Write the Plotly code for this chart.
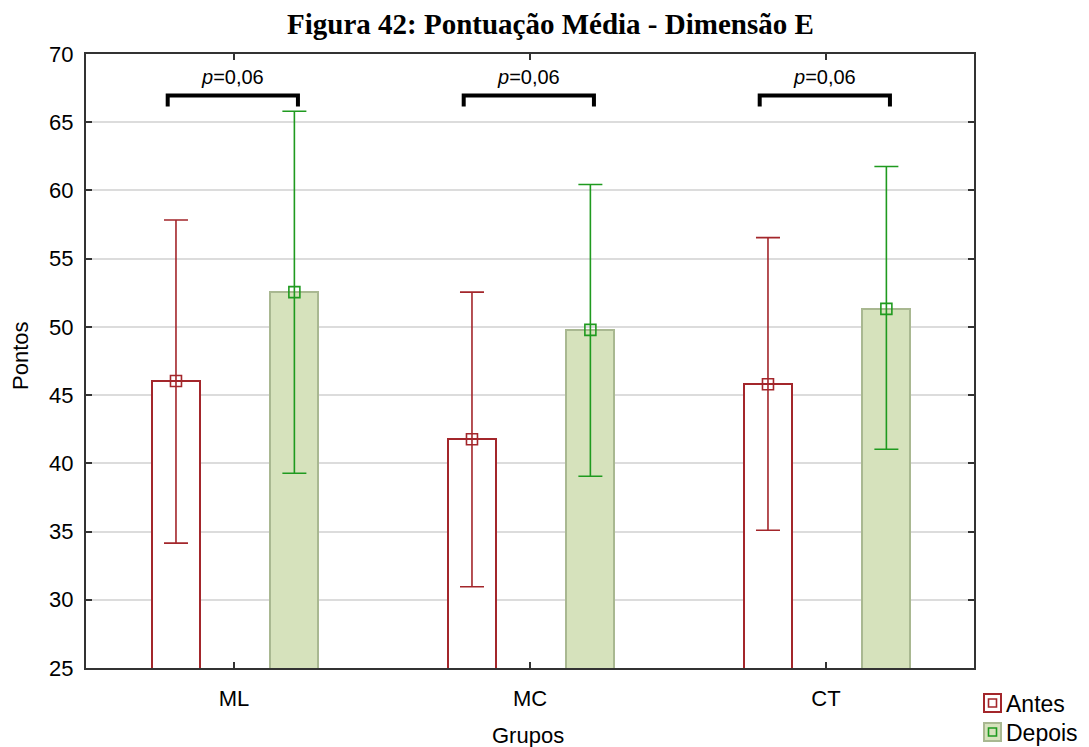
import plotly.graph_objects as go

# Groups and scores (mean with confidence interval limits)
grupos = ["ML", "MC", "CT"]
series = ["Antes", "Depois"]
antes_media = [46.03, 41.77, 45.80]
antes_sup = [57.83, 52.55, 56.54]
antes_inf = [34.15, 30.95, 35.10]
depois_media = [52.55, 49.78, 51.32]
depois_sup = [65.80, 60.44, 61.76]
depois_inf = [39.27, 39.05, 41.03]
p_valores = ["0,06", "0,06", "0,06"]
y_ticks = [25, 30, 35, 40, 45, 50, 55, 60, 65, 70]

RED = "#a3262b"
GREEN_LINE = "#1f9a1f"
GREEN_FILL = "#d6e2bc"
GREEN_EDGE = "#a9b891"

FONT = "Liberation Sans, Arial, sans-serif"
SERIF = "Liberation Serif, Times New Roman, serif"

xs = list(range(len(grupos)))
off_a, off_d = -0.196, 0.204
bar_w = 0.162

fig = go.Figure()

fig.add_trace(go.Bar(
    x=[x + off_a for x in xs], y=antes_media, width=bar_w,
    marker=dict(color="white", line=dict(color=RED, width=2)),
    showlegend=False, hoverinfo="skip"))
fig.add_trace(go.Bar(
    x=[x + off_d for x in xs], y=depois_media, width=bar_w,
    marker=dict(color=GREEN_FILL, line=dict(color=GREEN_EDGE, width=2)),
    showlegend=False, hoverinfo="skip"))

fig.add_trace(go.Scatter(
    x=[x + off_a for x in xs], y=antes_media, mode="markers",
    marker=dict(symbol="square-open", size=11, color=RED, line=dict(width=1.6, color=RED)),
    error_y=dict(type="data", symmetric=False,
                 array=[s - m for s, m in zip(antes_sup, antes_media)],
                 arrayminus=[m - i for m, i in zip(antes_media, antes_inf)],
                 color=RED, thickness=1.6, width=12),
    showlegend=False))
fig.add_trace(go.Scatter(
    x=[x + off_d for x in xs], y=depois_media, mode="markers",
    marker=dict(symbol="square-open", size=11, color=GREEN_LINE, line=dict(width=1.6, color=GREEN_LINE)),
    error_y=dict(type="data", symmetric=False,
                 array=[s - m for s, m in zip(depois_sup, depois_media)],
                 arrayminus=[m - i for m, i in zip(depois_media, depois_inf)],
                 color=GREEN_LINE, thickness=1.6, width=12),
    showlegend=False))

shapes = []
annotations = []
# significance brackets
for x, p in zip(xs, p_valores):
    x0, x1 = x - 0.224, x + 0.216
    y_top, y_bot = 66.96, 66.15
    shapes.append(dict(type="path", xref="x", yref="y",
                       path=f"M {x0},{y_bot} L {x0},{y_top} L {x1},{y_top} L {x1},{y_bot}",
                       line=dict(color="black", width=4)))
    annotations.append(dict(x=x - 0.004, y=68.3, xref="x", yref="y", showarrow=False,
                            text=f"<i>p</i>={p}", font=dict(family=FONT, size=20, color="black")))

# legend drawn in the lower right corner
leg_items = [(series[0], "white", RED, RED), (series[1], GREEN_FILL, GREEN_EDGE, GREEN_LINE)]
W, H = 888.0, 614.0
px = lambda v: (v - 86) / W
py = lambda v: (668 - v) / H
for k, (name, fill, edge, mk) in enumerate(leg_items):
    top = 694 + k * 29
    shapes.append(dict(type="rect", xref="paper", yref="paper",
                       x0=px(984), x1=px(1001), y0=py(top), y1=py(top + 18),
                       fillcolor=fill, line=dict(color=edge, width=2)))
    shapes.append(dict(type="rect", xref="paper", yref="paper",
                       x0=px(988.5), x1=px(996.5), y0=py(top + 5), y1=py(top + 13),
                       fillcolor="rgba(0,0,0,0)", line=dict(color=mk, width=1.6)))
    annotations.append(dict(x=px(1004), y=py(top + 10), xref="paper", yref="paper",
                            xanchor="left", yanchor="middle", showarrow=False, text=name,
                            font=dict(family=FONT, size=23, color="black")))

# axis titles
annotations.append(dict(x=px(528), y=py(735), xref="paper", yref="paper",
                        showarrow=False, text="Grupos", xanchor="center", yanchor="middle",
                        font=dict(family=FONT, size=22, color="black")))
annotations.append(dict(x=px(20), y=py(356), xref="paper", yref="paper",
                        showarrow=False, text="Pontos", textangle=-90, xanchor="center",
                        yanchor="middle", font=dict(family=FONT, size=22, color="black")))
# title
annotations.append(dict(x=px(550), y=py(24), xref="paper", yref="paper",
                        showarrow=False, text="<b>Figura 42: Pontuação Média - Dimensão E</b>",
                        xanchor="center", yanchor="middle",
                        font=dict(family=SERIF, size=29, color="black")))

fig.update_layout(
    width=1089, height=747,
    margin=dict(l=86, r=115, t=54, b=79),
    paper_bgcolor="white", plot_bgcolor="white",
    barmode="overlay", bargap=0,
    shapes=shapes, annotations=annotations,
    font=dict(family=FONT, size=22, color="black"),
)
fig.update_xaxes(
    range=[-0.5, 2.5], tickvals=xs, ticktext=grupos,
    ticks="inside", ticklen=6, tickwidth=2, tickcolor="#333",
    showline=True, linecolor="#333", linewidth=2, mirror="allticks",
    showgrid=False, zeroline=False, ticklabelstandoff=10,
    tickfont=dict(family=FONT, size=22, color="black"))
fig.update_yaxes(
    range=[25, 70], tickvals=y_ticks,
    ticks="inside", ticklen=6, tickwidth=2, tickcolor="#333",
    showline=True, linecolor="#333", linewidth=2, mirror="allticks",
    showgrid=True, gridcolor="#dcdcdc", gridwidth=2, zeroline=False,
    ticklabelstandoff=6,
    tickfont=dict(family=FONT, size=22, color="black"))

fig.write_html("out.html")
